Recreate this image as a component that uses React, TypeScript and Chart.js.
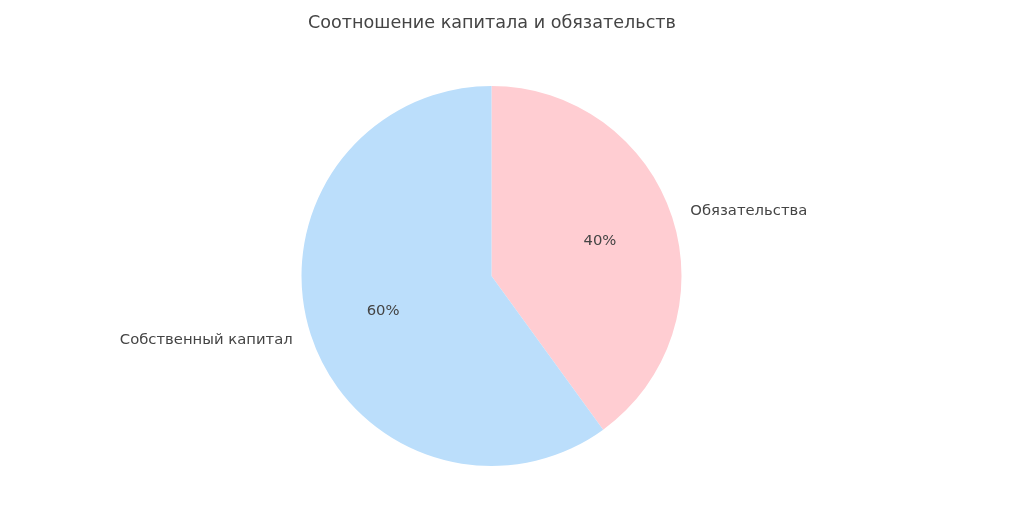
import React, { useEffect, useRef } from "react";
import { Chart, registerables } from "chart.js";

Chart.register(...registerables);

const titleText = "Соотношение капитала и обязательств";
const categories = ["Обязательства", "Собственный капитал"];
const values = [40, 60];
const colors = ["#FFCDD2", "#BBDEFB"];

const TEXT_COLOR = "#444444";
const FONT = "DejaVu Sans";

const labelPlugin = {
  id: "pieLabels",
  afterDraw(chart: any) {
    const ctx = chart.ctx;
    const meta = chart.getDatasetMeta(0);
    const total = values.reduce((a, b) => a + b, 0);
    ctx.save();
    ctx.fillStyle = TEXT_COLOR;
    // title
    ctx.font = `17.6px "${FONT}"`;
    ctx.textAlign = "center";
    ctx.textBaseline = "middle";
    ctx.fillText(titleText, 492, 23);

    meta.data.forEach((arc: any, i: number) => {
      const { x, y, startAngle, endAngle, outerRadius } = arc.getProps(
        ["x", "y", "startAngle", "endAngle", "outerRadius"],
        true
      );
      const mid = (startAngle + endAngle) / 2;
      const cx = Math.cos(mid);
      const cy = Math.sin(mid);
      // outside label
      ctx.font = `14.8px "${FONT}"`;
      ctx.textBaseline = "middle";
      ctx.textAlign = cx >= 0 ? "left" : "right";
      ctx.fillText(categories[i], x + cx * outerRadius * 1.1, y + cy * outerRadius * 1.1);
      // percentage
      ctx.textAlign = "center";
      const pct = Math.round((values[i] / total) * 100) + "%";
      ctx.fillText(pct, x + cx * outerRadius * 0.6, y + cy * outerRadius * 0.6);
    });
    ctx.restore();
  },
};

export default function App() {
  const ref = useRef<HTMLCanvasElement | null>(null);
  useEffect(() => {
    document.body.style.margin = "0";
    const canvas = ref.current!;
    const chart = new Chart(canvas, {
      type: "pie",
      data: {
        labels: categories,
        datasets: [
          {
            data: values,
            backgroundColor: colors,
            borderWidth: 0,
          },
        ],
      },
      options: {
        responsive: false,
        animation: false,
        layout: {
          padding: { left: 301, right: 342, top: 86, bottom: 64 },
        },
        plugins: {
          legend: { display: false },
          title: { display: false },
          tooltip: { enabled: false },
        },
      },
      plugins: [labelPlugin],
    });
    return () => chart.destroy();
  }, []);
  return (
    <div style={{ width: 1024, height: 530, background: "#fff" }}>
      <canvas ref={ref} width={1024} height={530} style={{ display: "block" }} />
    </div>
  );
}
